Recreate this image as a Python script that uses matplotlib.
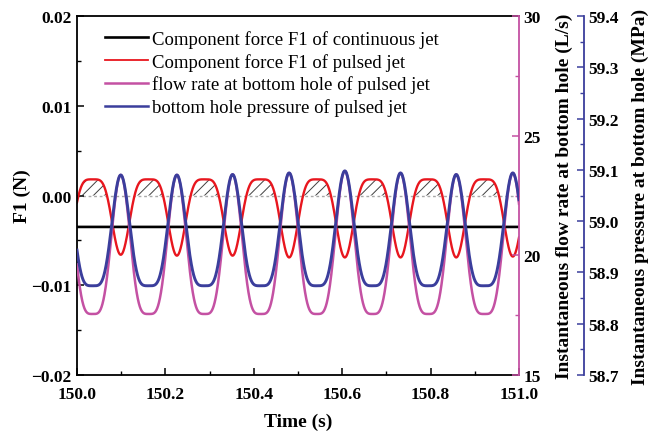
import numpy as np
import matplotlib
matplotlib.use("Agg")
import matplotlib.pyplot as plt
from matplotlib.ticker import MultipleLocator, FuncFormatter
from matplotlib.lines import Line2D

# Peak instants of the pulsed bottom-hole pressure (s)
peak_time = [150.099, 150.226, 150.352, 150.480, 150.606, 150.732, 150.858, 150.986]
# Per-cycle peak pressure (MPa) and the flat trough level
pressure_peak = [59.090, 59.090, 59.091, 59.094, 59.098, 59.094, 59.091, 59.094]
pressure_trough = 58.874
# Per-cycle peak flow rate (L/s) and trough level
flow_peak = [23.36, 23.36, 23.38, 23.44, 23.52, 23.44, 23.38, 23.44]
flow_trough = 17.55
# Component force F1 of the pulsed jet: flat top and per-cycle dip (N)
force_top = 0.0018
force_dip = [-0.0066, -0.0067, -0.0067, -0.0069, -0.0069, -0.0069, -0.0069, -0.0068]
# Component force F1 of the continuous jet (N)
force_continuous = -0.0035

legend_labels = ["Component force F1 of continuous jet",
                 "Component force F1 of pulsed jet",
                 "flow rate at bottom hole of pulsed jet",
                 "bottom hole pressure of pulsed jet"]

RED = "#E8161E"
PINK = "#C451A3"
BLUE = "#3B3E9C"

plt.rcParams["font.family"] = ["Liberation Serif", "DejaVu Serif"]
plt.rcParams["hatch.linewidth"] = 0.7
plt.rcParams["hatch.color"] = "#404040"

t = np.linspace(150.0, 151.0, 3001)
peaks = np.asarray(peak_time)
period = np.mean(np.diff(peaks))
idx = np.abs(t[:, None] - peaks[None, :]).argmin(axis=1)
phase = 2 * np.pi * (t - peaks[idx]) / period
base = (1 + np.cos(phase)) / 2


def pulse(low, high, sharp):
    high = np.asarray(high)[idx]
    return low + (high - low) * base ** sharp


pressure = pulse(pressure_trough, pressure_peak, 2.2)
flow = pulse(flow_trough, flow_peak, 2.0)
force = force_top - (force_top - np.asarray(force_dip)[idx]) * base ** 2.3

fig = plt.figure(figsize=(6.48, 4.35), dpi=100)
ax = fig.add_axes([0.1188, 0.1356, 0.6821, 0.8253])
ax2 = ax.twinx()
ax3 = ax.twinx()
ax3.spines["right"].set_position(("axes", 1.147))

# Left axis: F1
ax.axhline(0.0, color="#A8A8A8", lw=1.0, ls=(0, (2, 2)), zorder=1)
ax.fill_between(t, 0.0, force, where=force > 0, facecolor="none",
                edgecolor="#404040", hatch="///", linewidth=0, zorder=1)
ax.plot(t, np.full_like(t, force_continuous), color="black", lw=1.9, zorder=3)
ax.plot(t, force, color=RED, lw=1.7, zorder=2)
ax.set_xlim(150.0, 151.0)
ax.set_ylim(-0.02, 0.02)

# Right axes
ax2.plot(t, flow, color=PINK, lw=1.8)
ax2.set_ylim(15, 30)
ax3.plot(t, pressure, color=BLUE, lw=2.1)
ax3.set_ylim(58.7, 59.4)


def minus(fmt):
    return FuncFormatter(lambda v, p: (fmt % v).replace("-", "\u2212"))


ax.xaxis.set_major_locator(MultipleLocator(0.2))
ax.xaxis.set_minor_locator(MultipleLocator(0.1))
ax.xaxis.set_major_formatter(minus("%.1f"))
ax.yaxis.set_major_locator(MultipleLocator(0.01))
ax.yaxis.set_minor_locator(MultipleLocator(0.005))
ax.yaxis.set_major_formatter(minus("%.2f"))
ax2.yaxis.set_major_locator(MultipleLocator(5))
ax2.yaxis.set_minor_locator(MultipleLocator(2.5))
ax3.yaxis.set_major_locator(MultipleLocator(0.1))
ax3.yaxis.set_minor_locator(MultipleLocator(0.05))
ax3.yaxis.set_major_formatter(minus("%.1f"))

for a in (ax, ax2, ax3):
    a.tick_params(which="major", direction="in", length=5, width=1.1)
    a.tick_params(which="minor", direction="in", length=3, width=1.0)
    for lab in a.get_xticklabels() + a.get_yticklabels():
        lab.set_fontsize(12.5)
        lab.set_fontweight("bold")
ax.tick_params(axis="y", which="both", right=False, pad=4)
ax.tick_params(axis="x", which="both", top=False, pad=8)
ax2.tick_params(axis="y", which="both", colors=PINK, labelcolor="black", pad=3)
ax3.tick_params(axis="y", which="both", colors=BLUE, labelcolor="black", pad=3)

for s in ("left", "bottom", "top"):
    ax.spines[s].set_linewidth(1.3)
ax.spines["right"].set_visible(False)
ax2.spines["right"].set_color(PINK)
ax2.spines["right"].set_linewidth(1.3)
for s in ("left", "top", "bottom"):
    ax2.spines[s].set_visible(False)
    ax3.spines[s].set_visible(False)
ax3.spines["right"].set_color(BLUE)
ax3.spines["right"].set_linewidth(1.3)

label_font = dict(fontsize=14, fontweight="bold")
ax.set_xlabel("Time (s)", **label_font)
ax.xaxis.set_label_coords(0.5, -0.105)
ax.set_ylabel("F1 (N)", **label_font)
ax.yaxis.set_label_coords(-0.105, 0.5)
ax2.set_ylabel("Instantaneous flow rate at bottom hole (L/s)", **label_font)
ax2.yaxis.set_label_coords(1.084, 0.5)
ax3.set_ylabel("Instantaneous pressure at bottom hole (MPa)", **label_font)
ax3.yaxis.set_label_coords(1.256, 0.5)

handles = [Line2D([], [], color="black", lw=1.9),
           Line2D([], [], color=RED, lw=1.3),
           Line2D([], [], color=PINK, lw=1.8),
           Line2D([], [], color=BLUE, lw=1.8)]
leg = ax3.legend(handles, legend_labels, loc="upper left",
                 bbox_to_anchor=(0.046, 0.982), frameon=False,
                 prop={"family": "Liberation Serif", "size": 13.5},
                 handlelength=2.3, handletextpad=0.2, labelspacing=0.26,
                 borderaxespad=0.0)

fig.savefig("out.png", dpi=100)
